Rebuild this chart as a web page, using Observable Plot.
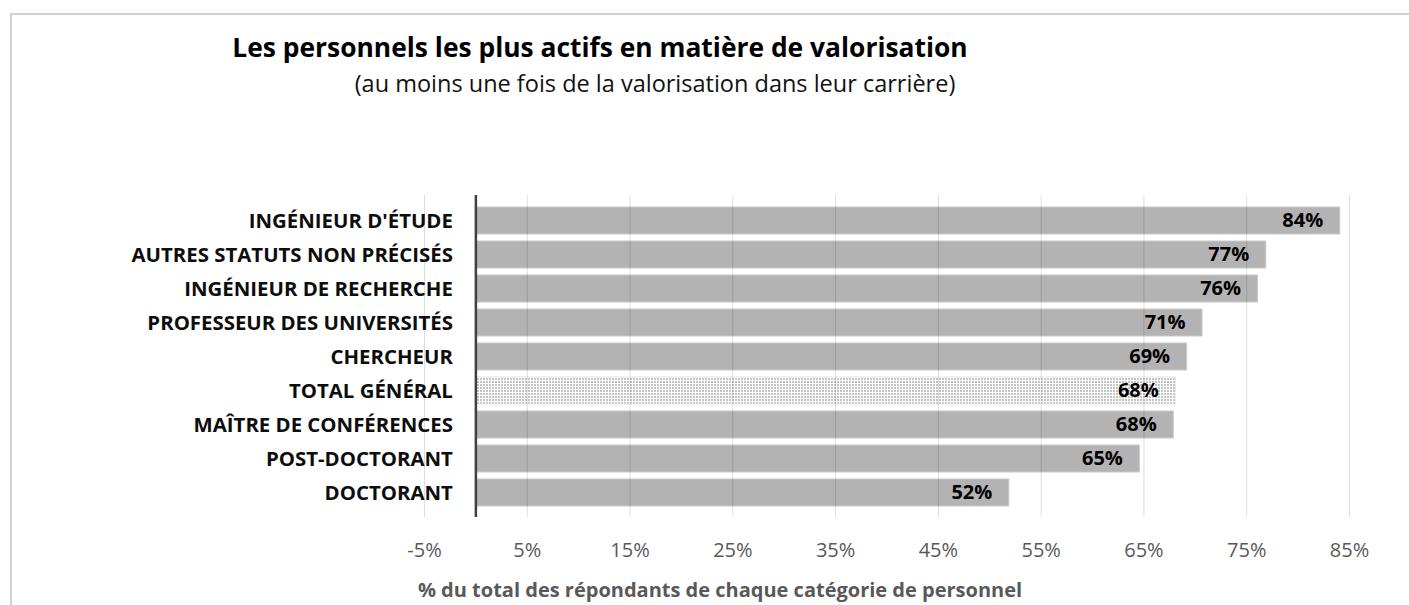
<!DOCTYPE html>
<html>
<head>
<meta charset="utf-8">
<script src="https://cdn.jsdelivr.net/npm/d3@7"></script>
<script src="https://cdn.jsdelivr.net/npm/@observablehq/plot@0.6"></script>
<style>
  html, body { margin: 0; padding: 0; background: #fff; }
  body { width: 1409px; height: 605px; position: relative; overflow: hidden; font-family: "Open Sans", sans-serif; }
  #frame { position: absolute; left: 10px; top: 13px; width: 1420px; height: 620px; border-left: 2px solid #d0d0d0; border-top: 2px solid #d0d0d0; }
  .t { position: absolute; white-space: nowrap; transform: translateX(-50%); }
  #title { left: 600px; top: 34px; font-size: 26.4px; font-weight: 700; color: #000; line-height: 1; }
  #subtitle { left: 655px; top: 71.5px; font-size: 23.5px; color: #111; line-height: 1; }
  #xlabel { left: 720px; top: 580px; font-size: 20px; font-weight: 700; color: #595959; line-height: 1; }
  #chart { position: absolute; left: 0; top: 180px; }
</style>
</head>
<body>
<div id="frame"></div>
<div class="t" id="title">Les personnels les plus actifs en matière de valorisation</div>
<div class="t" id="subtitle">(au moins une fois de la valorisation dans leur carrière)</div>
<div id="chart"></div>
<div class="t" id="xlabel">% du total des répondants de chaque catégorie de personnel</div>
<script>
const categories = [
  "INGÉNIEUR D'ÉTUDE",
  "AUTRES STATUTS NON PRÉCISÉS",
  "INGÉNIEUR DE RECHERCHE",
  "PROFESSEUR DES UNIVERSITÉS",
  "CHERCHEUR",
  "TOTAL GÉNÉRAL",
  "MAÎTRE DE CONFÉRENCES",
  "POST-DOCTORANT",
  "DOCTORANT"
];
const values = [84.1, 76.9, 76.1, 70.7, 69.2, 68.1, 67.9, 64.6, 51.9];
const valueLabels = ["84%", "77%", "76%", "71%", "69%", "68%", "68%", "65%", "52%"];
const xTicks = [-5, 5, 15, 25, 35, 45, 55, 65, 75, 85];
const totalCategory = "TOTAL GÉNÉRAL";

const data = categories.map((c, i) => ({cat: c, value: values[i], label: valueLabels[i]}));

const plot = Plot.plot({
  width: 1409,
  height: 396,
  marginLeft: 424,
  marginRight: 60,
  marginTop: 15,
  marginBottom: 59,
  style: {fontFamily: "'Open Sans', sans-serif", background: "transparent"},
  x: {domain: [-5, 85], ticks: xTicks, tickFormat: d => d + "%"},
  y: {domain: categories, padding: 0.22, axis: null},
  marks: [
    Plot.barX(data, {
      x1: d => 0, x2: "value", y: "cat",
      fill: d => d.cat === totalCategory ? "url(#dots)" : "#b3b3b3",
      stroke: d => d.cat === totalCategory ? "#e6e6e6" : "#c9c9c9",
      strokeWidth: 1
    }),
    Plot.ruleX(xTicks, {stroke: "#000", strokeOpacity: 0.13, strokeWidth: 1}),
    Plot.ruleX([0], {stroke: "#404040", strokeWidth: 2.5}),
    Plot.text(data, {
      x: "value", y: "cat", text: "label", textAnchor: "end", dx: -17,
      fontSize: 20, fontWeight: 700, fill: "#000"
    }),
    Plot.text(data, {
      x: d => 0, y: "cat", text: "cat", textAnchor: "end", dx: -23,
      fontSize: 20.4, fontWeight: 700, fill: "#0d0d0d"
    }),
    Plot.axisX({ticks: xTicks, tickFormat: d => d + "%", tickSize: 0, tickPadding: 25, fontSize: 20, color: "#595959", label: null})
  ]
});

const ns = "http://www.w3.org/2000/svg";
const defs = document.createElementNS(ns, "defs");
const pat = document.createElementNS(ns, "pattern");
pat.setAttribute("id", "dots");
pat.setAttribute("patternUnits", "userSpaceOnUse");
pat.setAttribute("width", "3");
pat.setAttribute("height", "3");
const bg = document.createElementNS(ns, "rect");
bg.setAttribute("width", "3"); bg.setAttribute("height", "3"); bg.setAttribute("fill", "#ffffff");
const dot = document.createElementNS(ns, "rect");
dot.setAttribute("width", "2"); dot.setAttribute("height", "2"); dot.setAttribute("fill", "#c4c4c4");
pat.appendChild(bg); pat.appendChild(dot);
defs.appendChild(pat);
plot.insertBefore(defs, plot.firstChild);

document.getElementById("chart").appendChild(plot);
</script>
</body>
</html>
